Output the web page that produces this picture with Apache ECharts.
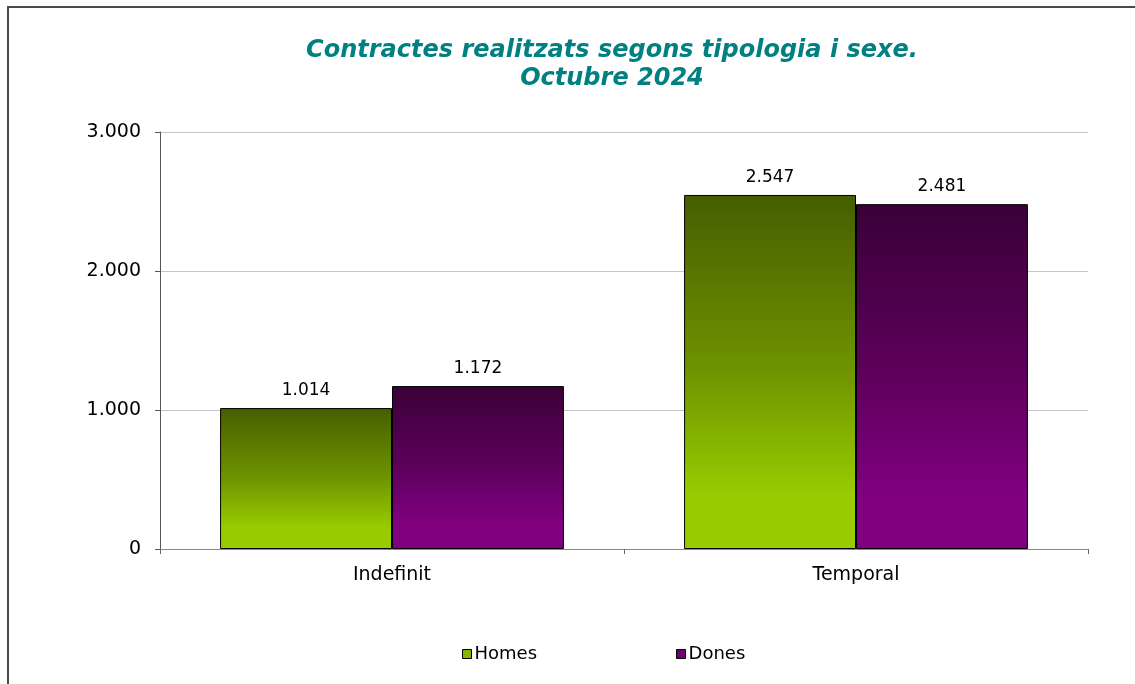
<!DOCTYPE html>
<html>
<head>
<meta charset="utf-8">
<script src="https://cdn.jsdelivr.net/npm/echarts@6/dist/echarts.min.js"></script>
<style>
  html, body { margin: 0; padding: 0; background: #fff; overflow: hidden; }
  #main { position: absolute; left: 0; top: 0; width: 1135px; height: 684px; }
  #marc { position: absolute; left: 7px; top: 6px; width: 1300px; height: 900px;
          border: 2px solid #4a4a4a; pointer-events: none; }
</style>
</head>
<body>
<div id="main"></div>
<div id="marc"></div>
<script>
// dades
var categories = ['Indefinit', 'Temporal'];
var homes = [1014, 2547];
var dones = [1172, 2481];
var yTicks = [0, 1000, 2000, 3000];

// format 1.234
function fmt(v) {
    return String(v).replace(/\B(?=(\d{3})+(?!\d))/g, '.');
}

var font = '"DejaVu Sans", sans-serif';

function grad(top, mid, bottom) {
    return new echarts.graphic.LinearGradient(0, 0, 0, 1, [
        { offset: 0, color: top },
        { offset: 0.5, color: mid },
        { offset: 0.85, color: bottom },
        { offset: 1, color: bottom }
    ]);
}

var myChart = echarts.init(document.getElementById('main'));

var option = {
    animation: false,
    backgroundColor: '#fff',
    title: {
        text: 'Contractes realitzats segons tipologia i sexe.\nOctubre 2024',
        left: 607,
        textAlign: 'center',
        top: 32,
        textStyle: {
            color: '#008080',
            fontFamily: font,
            fontStyle: 'italic',
            fontWeight: 'bold',
            fontSize: 24,
            lineHeight: 28
        }
    },
    legend: {
        bottom: 16,
        left: 457,
        itemWidth: 9,
        itemHeight: 9,
        itemGap: 139,
        icon: 'rect',
        textStyle: { fontFamily: font, fontSize: 18, color: '#000', padding: [0, 0, 0, -2] },
        data: [
            { name: 'Homes', itemStyle: { color: '#88b400', borderColor: '#000', borderWidth: 1 } },
            { name: 'Dones', itemStyle: { color: '#700070', borderColor: '#000', borderWidth: 1 } }
        ]
    },
    grid: {
        left: 160,
        right: 47,
        top: 132,
        bottom: 135,
        containLabel: false
    },
    xAxis: {
        type: 'category',
        data: categories,
        axisLine: { lineStyle: { color: '#888', width: 1 } },
        axisTick: { show: true, length: 5, lineStyle: { color: '#666' } },
        axisLabel: { fontFamily: font, fontSize: 19, color: '#000', margin: 17 }
    },
    yAxis: {
        type: 'value',
        min: yTicks[0],
        max: yTicks[yTicks.length - 1],
        interval: 1000,
        axisLine: { show: true, lineStyle: { color: '#555', width: 1 } },
        axisTick: { show: true, length: 5, lineStyle: { color: '#555' } },
        splitLine: { lineStyle: { color: '#c4c4c4', width: 1 } },
        axisLabel: {
            fontFamily: font, fontSize: 19, color: '#000', margin: 19,
            formatter: function (v) { return fmt(v); }
        }
    },
    series: [
        {
            name: 'Homes',
            type: 'bar',
            data: homes,
            barGap: 0,
            barCategoryGap: '25.9%',
            itemStyle: {
                color: grad('#465e00', '#6f9400', '#99cc00'),
                borderColor: '#000',
                borderWidth: 1
            },
            label: {
                show: true, position: 'top', distance: 9,
                fontFamily: font, fontSize: 17, color: '#000',
                formatter: function (p) { return fmt(p.value); }
            }
        },
        {
            name: 'Dones',
            type: 'bar',
            data: dones,
            itemStyle: {
                color: grad('#3a0038', '#5e005c', '#800080'),
                borderColor: '#000',
                borderWidth: 1
            },
            label: {
                show: true, position: 'top', distance: 9,
                fontFamily: font, fontSize: 17, color: '#000',
                formatter: function (p) { return fmt(p.value); }
            }
        }
    ]
};

myChart.setOption(option);
</script>
</body>
</html>
